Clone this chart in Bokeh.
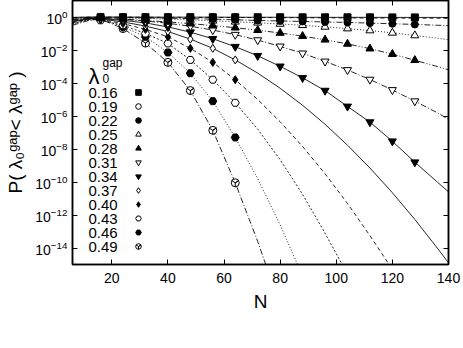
import numpy as np
from bokeh.plotting import figure
from bokeh.models import (LogAxis, LinearAxis, FixedTicker, Label, Legend,
                          LegendItem, Range1d, CustomJSTickFormatter)
from bokeh.embed import file_html
from bokeh.resources import INLINE

# ---------------- data (log10 of P) ----------------
lam_labels = ["0.16", "0.19", "0.22", "0.25", "0.28", "0.31",
              "0.34", "0.37", "0.40", "0.43", "0.46", "0.49"]

N_pts = [16, 24, 32, 40, 48, 56, 64, 72, 80, 88, 96, 104, 112, 120, 128]

logP_016 = [-0.01, -0.01, -0.01, -0.01, -0.01, -0.01, -0.015, -0.015, -0.015, -0.02, -0.02, -0.02, -0.02, -0.025, -0.025]
logP_019 = [-0.01, -0.01, -0.015, -0.02, -0.02, -0.025, -0.03, -0.035, -0.04, -0.045, -0.05, -0.055, -0.06, -0.065, -0.07]
logP_022 = [-0.02, -0.03, -0.05, -0.07, -0.10, -0.13, -0.17, -0.21, -0.24, -0.27, -0.30, -0.33, -0.37, -0.41, -0.45]
logP_025 = [-0.03, -0.06, -0.09, -0.13, -0.18, -0.23, -0.29, -0.35, -0.42, -0.50, -0.60, -0.70, -0.82, -0.96, -1.12]
logP_028 = [-0.07, -0.13, -0.21, -0.30, -0.40, -0.52, -0.65, -0.80, -0.97, -1.16, -1.38, -1.63, -1.92, -2.25, -2.62]
logP_031 = [-0.08, -0.14, -0.24, -0.38, -0.56, -0.79, -1.07, -1.40, -1.78, -2.20, -2.69, -3.21, -3.79, -4.42, -5.10]
logP_034 = [-0.10, -0.20, -0.36, -0.60, -0.92, -1.32, -1.80, -2.35, -2.99, -3.69, -4.46, -5.42, -6.37, -7.53, -8.80]
logP_037 = [-0.12, -0.30, -0.55, -0.88, -1.34, -1.90, -2.60]
logP_040 = [-0.15, -0.40, -0.75, -1.20, -1.90, -2.75, -3.80]
logP_043 = [-0.20, -0.50, -1.00, -1.60, -2.60, -3.80, -5.20]
logP_046 = [-0.10, -0.60, -1.20, -2.15, -3.41, -5.10, -7.30]
logP_049 = [-0.13, -0.70, -1.58, -2.75, -4.46, -6.87, -10.05]

# fitted curves
N_fit = [6, 12, 16, 24, 32, 40, 48, 56, 64, 72, 80, 88, 96, 104, 112, 120, 128, 136, 140]
fit_016 = [-0.02, -0.005, 0.0, -0.005, -0.01, -0.01, -0.01, -0.01, -0.015, -0.015, -0.015, -0.02, -0.02, -0.02, -0.02, -0.025, -0.025, -0.025, -0.03]
fit_019 = [-0.04, -0.01, -0.01, -0.01, -0.015, -0.02, -0.02, -0.025, -0.03, -0.035, -0.04, -0.045, -0.05, -0.055, -0.06, -0.065, -0.07, -0.075, -0.08]
fit_022 = [-0.08, -0.02, -0.02, -0.03, -0.05, -0.07, -0.10, -0.13, -0.17, -0.21, -0.24, -0.27, -0.30, -0.33, -0.37, -0.41, -0.45, -0.50, -0.52]
fit_025 = [-0.12, -0.03, -0.03, -0.06, -0.09, -0.13, -0.18, -0.23, -0.29, -0.35, -0.42, -0.50, -0.60, -0.70, -0.82, -0.96, -1.12, -1.28, -1.38]
fit_028 = [-0.16, -0.05, -0.07, -0.13, -0.21, -0.30, -0.40, -0.52, -0.65, -0.80, -0.97, -1.16, -1.38, -1.63, -1.92, -2.25, -2.62, -3.00, -3.20]
fit_031 = [-0.20, -0.06, -0.08, -0.14, -0.24, -0.38, -0.56, -0.79, -1.07, -1.40, -1.78, -2.20, -2.69, -3.21, -3.79, -4.42, -5.10, -5.80, -6.20]
fit_034 = [-0.25, -0.08, -0.10, -0.20, -0.36, -0.60, -0.92, -1.32, -1.80, -2.35, -2.99, -3.69, -4.46, -5.42, -6.37, -7.53, -8.80, -10.00, -10.60]
fit_037 = [-0.30, -0.10, -0.12, -0.30, -0.55, -0.88, -1.34, -1.90, -2.60, -3.40, -4.32, -5.35, -6.50, -7.77, -9.15, -10.65, -12.27, -14.00, -14.90]
fit_040 = [-0.35, -0.12, -0.15, -0.40, -0.75, -1.20, -1.90, -2.75, -3.80, -5.00, -6.35, -7.85, -9.50, -11.30, -13.25, -15.30]
fit_043 = [-0.40, -0.15, -0.20, -0.50, -1.00, -1.60, -2.60, -3.80, -5.20, -6.80, -8.65, -10.75, -13.10, -15.60]
fit_046 = [-0.45, -0.18, -0.10, -0.60, -1.20, -2.15, -3.41, -5.10, -7.30, -9.80, -12.60, -15.70]
fit_049 = [-0.50, -0.20, -0.13, -0.70, -1.58, -2.75, -4.46, -6.87, -10.05, -13.60, -17.50]

y_ticks = [1e-14, 1e-12, 1e-10, 1e-8, 1e-6, 1e-4, 1e-2, 1e0]
x_ticks = [20, 40, 60, 80, 100, 120, 140]

marker_vals = [logP_016, logP_019, logP_022, logP_025, logP_028, logP_031,
               logP_034, logP_037, logP_040, logP_043, logP_046, logP_049]
fit_vals = [fit_016, fit_019, fit_022, fit_025, fit_028, fit_031,
            fit_034, fit_037, fit_040, fit_043, fit_046, fit_049]

# ---------------- styles ----------------
markers = ["square", "circle", "circle", "triangle", "triangle", "inverted_triangle",
           "inverted_triangle", "diamond", "diamond", "hex", "hex", "circle_y"]
filled = [True, False, True, False, True, False, True, False, True, False, True, False]
sizes = [7, 7, 7, 8, 8, 8, 8, 8, 8, 8, 8, 8]
dashes = ["solid", "4 3", "6 2 1 2", "1 2", "6 2 1 2 1 2", "6 2 1 2",
          "solid", "solid", "4 3", "2 2", "1 2", "6 2 1 2"]

FONT = "Liberation Sans"
FW, FH = 376, 264   # frame size in px

p = figure(frame_width=FW, frame_height=FH, output_backend="svg", toolbar_location=None,
           y_axis_type="log", x_range=Range1d(6, 140), y_range=Range1d(1e-15, 10),
           min_border_left=72, min_border_right=15, min_border_top=0,
           min_border_bottom=84)
p.grid.visible = False
p.outline_line_color = "black"
p.outline_line_width = 1.5
p.background_fill_color = "white"
p.border_fill_color = "white"

for k in range(12):
    nf = N_fit[:len(fit_vals[k])]
    p.line(nf, 10.0 ** np.array(fit_vals[k]), line_color="black", line_width=1,
           line_dash=dashes[k], line_alpha=0.85)

scatter_renderers = [None] * 12
for k in reversed(range(12)):      # lowest lambda drawn on top
    npnt = N_pts[:len(marker_vals[k])]
    scatter_renderers[k] = p.scatter(npnt, 10.0 ** np.array(marker_vals[k]),
                                     marker=markers[k], size=sizes[k],
                                     line_color="black", line_width=1,
                                     fill_color="black" if filled[k] else "white")

# axes
xa = p.xaxis[0]
xa.ticker = FixedTicker(ticks=x_ticks)
xa.axis_label = "N"
ya = p.yaxis[0]
ya.ticker = FixedTicker(ticks=y_ticks)
ya.axis_label = "P( \u03bb\u2080\u1d4d\u1d43\u1d56< \u03bb\u1d4d\u1d43\u1d56 )"
for ax in [xa, ya]:
    ax.major_tick_in = 5
    ax.major_tick_out = 0
    ax.minor_tick_line_color = None
    ax.axis_line_width = 1.5
    ax.major_label_text_font = FONT
    ax.major_label_text_font_size = "14px"
    ax.major_label_text_color = "black"
    ax.axis_label_text_font = FONT
    ax.axis_label_text_font_size = "19px"
    ax.axis_label_text_font_style = "normal"
    ax.axis_label_text_color = "black"
xa.major_label_standoff = 8
xa.axis_label_standoff = 5
ya.major_label_standoff = 5
ya.axis_label_standoff = 6

top = LinearAxis(ticker=FixedTicker(ticks=x_ticks), major_tick_in=5, major_tick_out=0,
                 minor_tick_line_color=None, formatter=CustomJSTickFormatter(code="return '';"),
                 major_label_standoff=0, axis_line_width=1.5)
right = LogAxis(ticker=FixedTicker(ticks=y_ticks), major_tick_in=5, major_tick_out=0,
                minor_tick_line_color=None, formatter=CustomJSTickFormatter(code="return '';"),
                major_label_standoff=0, axis_line_width=1.5)
p.add_layout(top, "above")
p.add_layout(right, "right")

# legend symbols (rows of 14 px)
leg_sym = Legend(items=[LegendItem(label="", renderers=[r]) for r in scatter_renderers],
                 location=(59, 11), glyph_width=14, glyph_height=14, label_height=14,
                 label_standoff=0, spacing=0, padding=0, margin=0,
                 border_line_color=None, background_fill_alpha=0,
                 label_text_font=FONT, label_text_font_size="10px")
p.add_layout(leg_sym, "center")

# frame-relative screen labels
def lab(txt, x, y, size, baseline="alphabetic"):
    p.add_layout(Label(x=x, y=y, x_units="screen", y_units="screen", text=txt,
                       text_font=FONT, text_font_size=size, text_color="black",
                       text_baseline=baseline, text_align="left"))

# legend value column, same rows as the symbols
row0 = 92
for i, s in enumerate(lam_labels):
    lab(s, 16, FH - (row0 + 14 * i), "15px", "middle")

# legend title lambda_0^gap
lab("\u03bb", 16, FH - 76, "22px")
lab("gap", 30, FH - 62, "12px")
lab("0", 30, FH - 78, "12px")

open("out.html", "w").write(file_html(p, INLINE))
